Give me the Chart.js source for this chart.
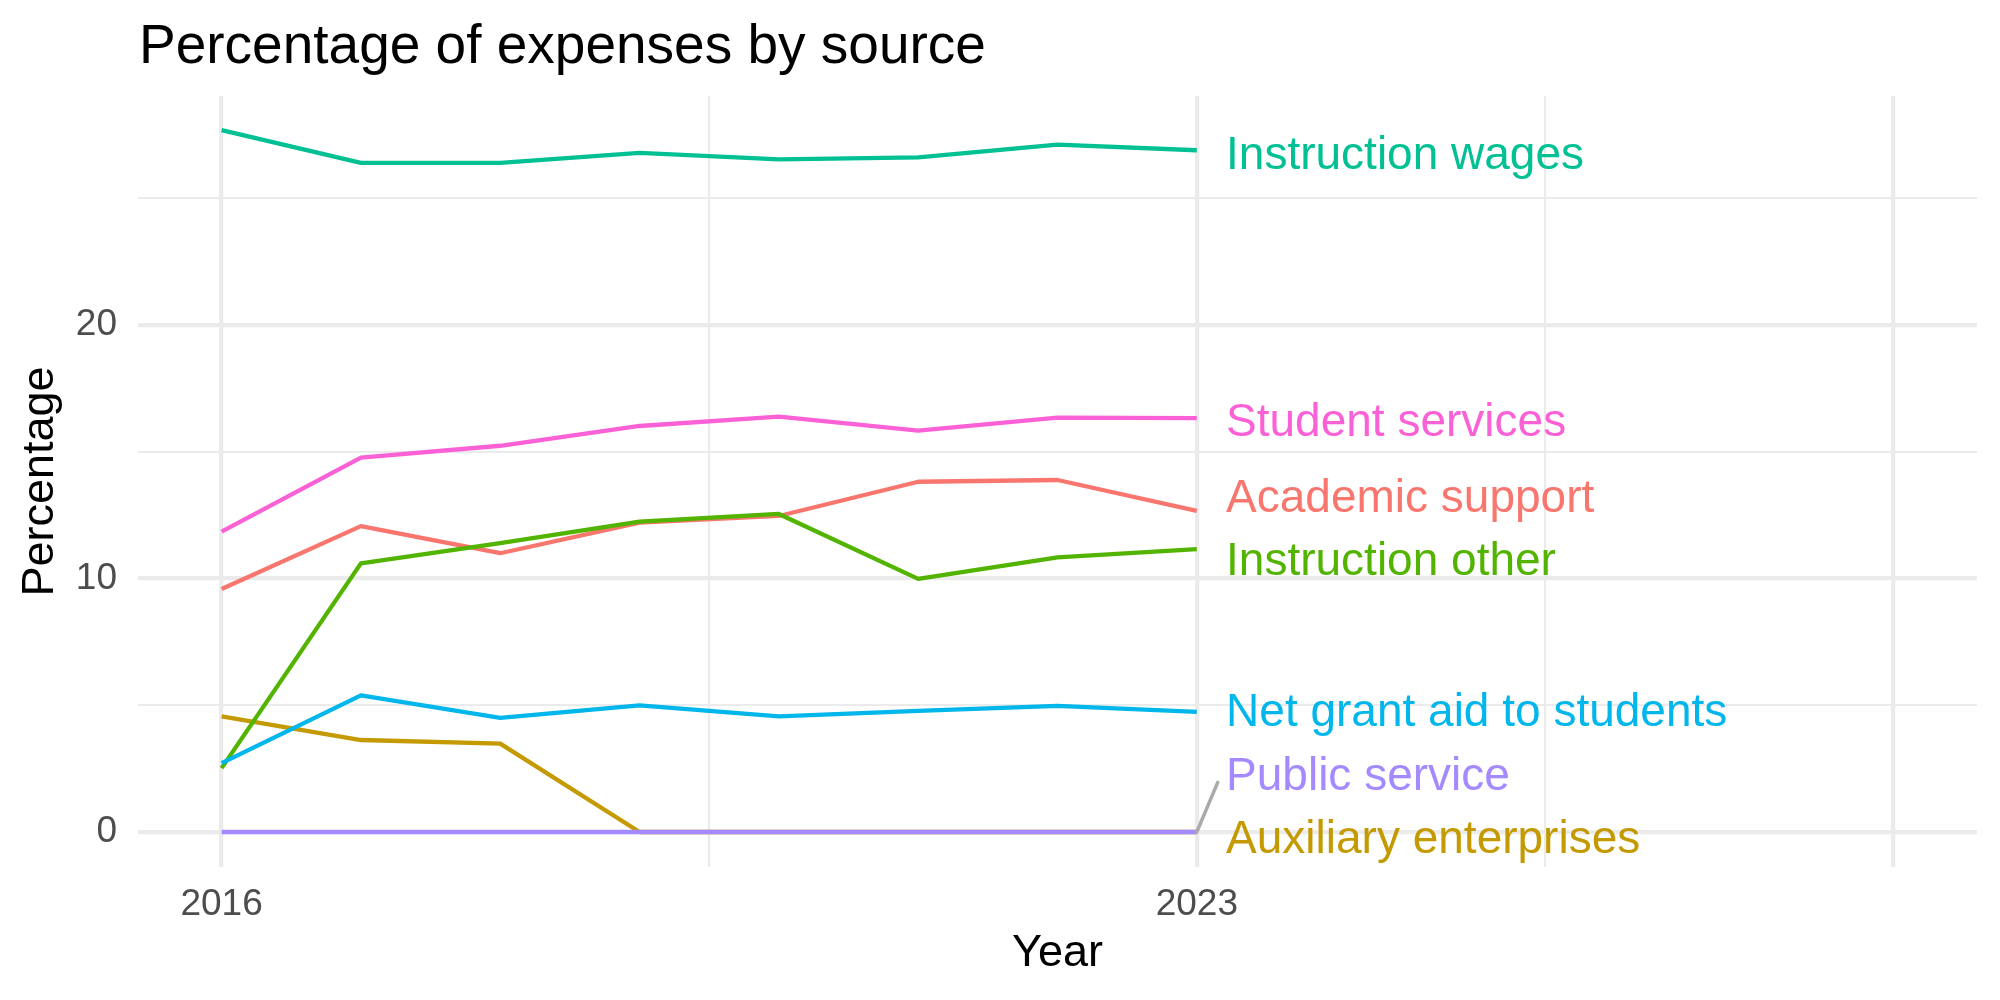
<!DOCTYPE html>
<html>
<head>
<meta charset="utf-8">
<script src="https://cdn.jsdelivr.net/npm/chart.js@4.4.1/dist/chart.umd.min.js"></script>
<style>
  html, body { margin: 0; padding: 0; background: #fff; }
  #wrap { width: 2000px; height: 1000px; }
</style>
</head>
<body>
<div id="wrap"><canvas id="chart" width="2000" height="1000"></canvas></div>
<script>
// Data
const years = [2016, 2017, 2018, 2019, 2020, 2021, 2022, 2023];

const academicSupport = [9.59, 12.07, 11.0, 12.21, 12.47, 13.82, 13.89, 12.67];
const auxiliaryEnterprises = [4.56, 3.63, 3.49, 0, 0, 0, 0, 0];
const instructionOther = [2.52, 10.6, 11.4, 12.25, 12.55, 9.99, 10.84, 11.16];
const instructionWages = [27.69, 26.4, 26.4, 26.8, 26.54, 26.62, 27.12, 26.9];
const netGrantAid = [2.72, 5.39, 4.5, 5.0, 4.56, 4.78, 4.98, 4.74];
const publicService = [0, 0, 0, 0, 0, 0, 0, 0];
const studentServices = [11.85, 14.77, 15.24, 16.02, 16.39, 15.84, 16.35, 16.33];

const seriesNames = ['Academic support', 'Auxiliary enterprises', 'Instruction other',
  'Instruction wages', 'Net grant aid to students', 'Public service', 'Student services'];
const seriesValues = [academicSupport, auxiliaryEnterprises, instructionOther,
  instructionWages, netGrantAid, publicService, studentServices];

// where the repelled end labels sit (value units)
const labelY = [13.26, -0.16, 10.78, 26.81, 4.82, 2.32, 16.27];

const xTicks = [2016, 2019.5, 2023, 2025.5, 2028];
const xLabelled = [2016, 2023];
const yTicks = [0, 5, 10, 15, 20, 25];
const yLabelled = [0, 10, 20];

// ggplot hue palette
const colours = ['#F8766D', '#C49A00', '#53B400', '#00C094', '#00B6EB', '#A58AFF', '#FB61D7'];

const FONT = '"Liberation Sans", Arial, Helvetica, sans-serif';
const GRID = '#EBEBEB';

const datasets = seriesNames.map((name, i) => ({
  label: name,
  data: years.map((yr, j) => ({ x: yr, y: seriesValues[i][j] })),
  borderColor: colours[i],
  backgroundColor: colours[i],
  borderWidth: 4.3,
  borderJoinStyle: 'round',
  pointRadius: 0,
  tension: 0,
  fill: false,
  // later groups on top, like ggplot
  order: seriesNames.length - 1 - i
}));

// title drawn flush with the panel, ggplot style
const titlePlugin = {
  id: 'ggTitle',
  afterDraw(chart) {
    const c = chart.ctx;
    c.save();
    c.font = '55px ' + FONT;
    c.fillStyle = '#000';
    c.textBaseline = 'alphabetic';
    c.textAlign = 'left';
    c.fillText('Percentage of expenses by source', chart.chartArea.left + 1, 63);
    c.restore();
  }
};

// end-of-line labels with the one repel segment
const endLabels = {
  id: 'endLabels',
  afterDatasetsDraw(chart) {
    const c = chart.ctx;
    const xs = chart.scales.x;
    const ys = chart.scales.y;
    const last = years[years.length - 1];
    c.save();
    // segment for Public service
    c.strokeStyle = '#AAAAAA';
    c.lineWidth = 3.5;
    c.lineCap = 'round';
    c.beginPath();
    c.moveTo(xs.getPixelForValue(last), ys.getPixelForValue(publicService[publicService.length - 1]));
    c.lineTo(xs.getPixelForValue(last + 0.15), ys.getPixelForValue(1.96));
    c.stroke();

    const size = 46;
    c.font = size + 'px ' + FONT;
    c.textAlign = 'left';
    c.textBaseline = 'alphabetic';
    seriesNames.forEach((name, i) => {
      c.fillStyle = colours[i];
      const px = xs.getPixelForValue(last + 0.21);
      const py = ys.getPixelForValue(labelY[i]) + size * 0.358;
      c.fillText(name, px, py);
    });
    c.restore();
  }
};

Chart.defaults.font.family = FONT;

new Chart(document.getElementById('chart'), {
  type: 'line',
  data: { datasets },
  options: {
    responsive: false,
    animation: false,
    devicePixelRatio: 1,
    layout: { padding: { top: 96, right: 23, bottom: 0, left: 0 } },
    plugins: {
      legend: { display: false },
      tooltip: { enabled: false },
      title: { display: false }
    },
    scales: {
      x: {
        type: 'linear',
        min: 2015.4,
        max: 2028.6,
        afterBuildTicks(scale) {
          scale.ticks = xTicks.map(v => ({ value: v }));
        },
        afterFit(scale) { scale.height = 133; },
        grid: {
          color: GRID,
          lineWidth: ctx => (ctx.tick && Number.isInteger(ctx.tick.value) ? 4.3 : 2.1),
          drawTicks: false
        },
        border: { display: false },
        ticks: {
          autoSkip: false,
          maxRotation: 0,
          padding: 16,
          color: '#4D4D4D',
          font: { size: 37 },
          callback: v => (xLabelled.includes(v) ? String(v) : '')
        },
        title: {
          display: true,
          text: 'Year',
          color: '#000',
          font: { size: 45 },
          padding: { top: 0, bottom: 19 }
        }
      },
      y: {
        type: 'linear',
        min: -1.38,
        max: 29.04,
        afterBuildTicks(scale) {
          scale.ticks = yTicks.map(v => ({ value: v }));
        },
        afterFit(scale) { scale.width = 138; },
        grid: {
          color: GRID,
          lineWidth: ctx => (ctx.tick && ctx.tick.value % 10 === 0 ? 4.3 : 2.1),
          drawTicks: false
        },
        border: { display: false },
        ticks: {
          padding: 21,
          color: '#4D4D4D',
          font: { size: 37 },
          callback: v => (yLabelled.includes(v) ? String(v) : '')
        },
        title: {
          display: true,
          text: 'Percentage',
          color: '#000',
          font: { size: 45 },
          padding: { top: 14, bottom: 0 }
        }
      }
    }
  },
  plugins: [titlePlugin, endLabels]
});
</script>
</body>
</html>
